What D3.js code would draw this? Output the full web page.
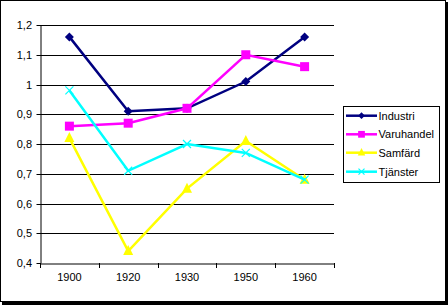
<!DOCTYPE html>
<head>
  <meta charset="utf-8">
  <script src="https://d3js.org/d3.v7.min.js"></script>
  <style>
    body { margin: 0; background: #fff; }
    text { font-family: "Liberation Sans", Arial, sans-serif; fill: #000; }
  </style>
</head>
<body>
  <script>
  var years = ["1900", "1920", "1930", "1950", "1960"];
  var industri   = [1.16, 0.91, 0.92, 1.01, 1.16];
  var varuhandel = [0.86, 0.87, 0.92, 1.10, 1.06];
  var samfard    = [0.82, 0.44, 0.65, 0.81, 0.68];
  var tjanster   = [0.98, 0.71, 0.80, 0.77, 0.68];
  var yTicks = [0.4, 0.5, 0.6, 0.7, 0.8, 0.9, 1.0, 1.1, 1.2];

  var series = [
    {name: "Industri", values: industri, color: "#000080", marker: "diamond"},
    {name: "Varuhandel", values: varuhandel, color: "#ff00ff", marker: "square"},
    {name: "Samfärd", values: samfard, color: "#ffff00", marker: "triangle"},
    {name: "Tjänster", values: tjanster, color: "#00ffff", marker: "x"}
  ];

  var W = 448, H = 305;
  var svg = d3.select("body").append("svg")
      .attr("width", W)
      .attr("height", H);

  // outer frame with shadow
  svg.append("rect").attr("x", 0.5).attr("y", 0.5)
      .attr("width", 445).attr("height", 301)
      .attr("fill", "#fff").attr("stroke", "#000");
  svg.append("rect").attr("x", 446).attr("y", 2).attr("width", 2).attr("height", 303).attr("fill", "#000");
  svg.append("rect").attr("x", 2).attr("y", 302).attr("width", 446).attr("height", 3).attr("fill", "#000");

  var x = d3.scaleBand().domain(years).range([40, 334]);
  var y = d3.scaleLinear().domain([0.4, 1.2]).range([263, 25]);
  var fmt = function(d) { return d3.format(".1~f")(d).replace(".", ","); };

  // gridlines
  svg.append("g").selectAll("line")
    .data(yTicks.slice(1))
    .enter().append("line")
      .attr("x1", 40).attr("x2", 334)
      .attr("y1", function(d) { return Math.round(y(d)) + 0.5; })
      .attr("y2", function(d) { return Math.round(y(d)) + 0.5; })
      .attr("stroke", "#000");

  var yAxis = svg.append("g")
      .attr("transform", "translate(40.5,0)")
      .call(d3.axisLeft(y).tickValues(yTicks).tickSize(4).tickSizeOuter(0).tickFormat(fmt));
  yAxis.selectAll("text").style("font-size", "11px").attr("x", -8.5);
  yAxis.selectAll(".tick").attr("transform", function(d) { return "translate(0," + (Math.round(y(d)) + 0.5) + ")"; });

  var xAxis = svg.append("g")
      .attr("transform", "translate(0,263.5)")
      .call(d3.axisBottom(x).tickSize(0).tickSizeOuter(0));
  xAxis.selectAll("text").style("font-size", "11px").attr("y", 10);
  // tick marks at category boundaries
  svg.append("g").selectAll("line")
    .data(years.concat(["end"]))
    .enter().append("line")
      .attr("x1", function(d, i) { return Math.round(i < years.length ? x(d) : x.range()[1]) + 0.5; })
      .attr("x2", function(d, i) { return Math.round(i < years.length ? x(d) : x.range()[1]) + 0.5; })
      .attr("y1", 263).attr("y2", 268)
      .attr("stroke", "#000");
  svg.selectAll(".domain").attr("stroke", "#000");

  var cx = function(i) { return x(years[i]) + x.bandwidth() / 2; };
  var line = d3.line()
      .x(function(d, i) { return cx(i); })
      .y(function(d) { return y(d); });

  function drawMarker(g, type, color, px, py, s) {
    if (type === "diamond") {
      g.append("path").attr("d", "M" + px + "," + (py - s) + "L" + (px + s) + "," + py + "L" + px + "," + (py + s) + "L" + (px - s) + "," + py + "Z")
        .attr("fill", color);
    } else if (type === "square") {
      g.append("rect").attr("x", px - s).attr("y", py - s).attr("width", 2 * s).attr("height", 2 * s)
        .attr("fill", color);
    } else if (type === "triangle") {
      g.append("path").attr("d", "M" + px + "," + (py - s - 1) + "L" + (px + s) + "," + (py + s - 1) + "L" + (px - s) + "," + (py + s - 1) + "Z")
        .attr("fill", color);
    } else {
      g.append("path").attr("d", "M" + (px - s) + "," + (py - s) + "L" + (px + s) + "," + (py + s) + "M" + (px + s) + "," + (py - s) + "L" + (px - s) + "," + (py + s))
        .attr("stroke", color).attr("stroke-width", 1.2);
    }
  }
  var sizes = {diamond: 4.5, square: 4.5, triangle: 5, x: 4};

  series.forEach(function(s) {
    var g = svg.append("g");
    g.append("path")
      .datum(s.values)
      .attr("fill", "none")
      .attr("stroke", s.color)
      .attr("stroke-width", 2.5)
      .attr("d", line);
    s.values.forEach(function(v, i) {
      drawMarker(g, s.marker, s.color, cx(i), y(v), sizes[s.marker]);
    });
  });

  // legend
  var legend = svg.append("g");
  legend.append("rect").attr("x", 343.5).attr("y", 106.5).attr("width", 96).attr("height", 76)
    .attr("fill", "#fff").attr("stroke", "#000");
  var ly = [115.7, 134.3, 152.7, 171.7];
  series.forEach(function(s, i) {
    legend.append("line").attr("x1", 346).attr("x2", 377)
      .attr("y1", ly[i]).attr("y2", ly[i])
      .attr("stroke", s.color).attr("stroke-width", 2.5);
    drawMarker(legend, s.marker, s.color, 361.5, ly[i], sizes[s.marker] * 0.75);
    legend.append("text").attr("x", 378.5).attr("y", ly[i]).attr("dy", "0.36em")
      .style("font-size", "11px").text(s.name);
  });
  </script>
</body>
